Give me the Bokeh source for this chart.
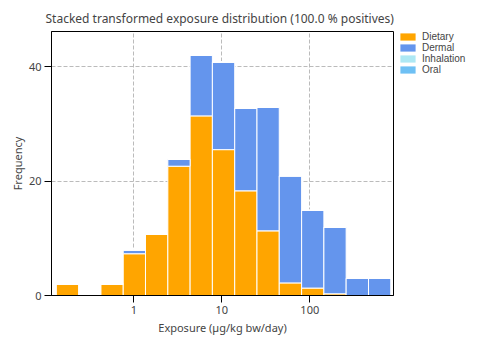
import numpy as np
from bokeh.plotting import figure
from bokeh.layouts import row
from bokeh.models import ColumnDataSource, Range1d, Legend, FixedTicker, BasicTickFormatter
from bokeh.transform import stack
from bokeh.embed import file_html
from bokeh.resources import INLINE

# log10 bin edges of exposure (µg/kg bw/day)
log_edges = [-0.88, -0.627, -0.373, -0.12, 0.133, 0.387, 0.64, 0.893, 1.147,
             1.40, 1.653, 1.907, 2.16, 2.413, 2.667, 2.92]
dietary = [2, 0, 2, 7.3, 10.7, 22.6, 31.4, 25.5, 18.3, 11.3, 2.2, 1.3, 0.3, 0, 0]
dermal = [0, 0, 0, 0.65, 0, 1.2, 10.6, 15.3, 14.4, 21.6, 18.7, 13.6, 11.6, 3.0, 3.0]
inhalation = [0] * 15
oral = [0] * 15
routes = ["Dietary", "Dermal", "Inhalation", "Oral"]
colors = ["#FFA500", "#6495ED", "#ADE8F4", "#6EC0F4"]
x_ticks = [1, 10, 100]
y_ticks = [0, 20, 40]

FONT = "Noto Sans"
LEG_FONT = "Liberation Sans"

edges = np.power(10.0, np.array(log_edges))
src = ColumnDataSource(dict(left=edges[:-1], right=edges[1:],
                            Dietary=dietary, Dermal=dermal,
                            Inhalation=inhalation, Oral=oral))

p = figure(width=394, height=350, x_axis_type="log",
           x_range=Range1d(10 ** -0.935, 10 ** 2.951), y_range=Range1d(0, 46.15),
           output_backend="svg", toolbar_location=None,
           min_border_left=51, min_border_right=1, min_border_top=31, min_border_bottom=55)

p.title.text = "Stacked transformed exposure distribution  (100.0 % positives)"
p.title.text_font = FONT
p.title.text_font_size = "12px"
p.title.text_font_style = "normal"
p.title.offset = -6

for i, r in enumerate(routes):
    p.quad(left="left", right="right",
           bottom=stack(*routes[:i]), top=stack(*routes[:i + 1]),
           source=src, fill_color=colors[i], line_color="white", line_width=1)

p.xaxis.ticker = FixedTicker(ticks=x_ticks)
p.xaxis.formatter = BasicTickFormatter()
p.yaxis.ticker = FixedTicker(ticks=y_ticks)
p.xaxis.axis_label = "Exposure (µg/kg bw/day)"
p.yaxis.axis_label = "Frequency"
for ax in (p.xaxis, p.yaxis):
    ax.axis_label_text_font = FONT
    ax.axis_label_text_font_size = "11px"
    ax.axis_label_text_font_style = "normal"
    ax.major_label_text_font = FONT
    ax.major_label_text_font_size = "11px"
    ax.axis_line_color = "black"
    ax.major_tick_line_color = "black"
    ax.major_tick_out = 7
    ax.major_tick_in = 0
    ax.minor_tick_line_color = None
p.xaxis.major_label_standoff = 3
p.xaxis.axis_label_standoff = 3
p.yaxis.major_label_standoff = 3
p.yaxis.axis_label_standoff = 1

p.grid.grid_line_color = "#bbbbbb"
p.grid.grid_line_dash = "4 2"
p.outline_line_color = "black"
p.outline_line_alpha = 1

# legend panel (separate small figure to the right of the plot box)
pl = figure(width=106, height=350, x_range=Range1d(-100, -99), y_range=Range1d(0, 1),
            output_backend="svg", toolbar_location=None,
            x_axis_location=None, y_axis_location=None,
            min_border_left=4, min_border_right=0, min_border_top=31, min_border_bottom=0)
pl.grid.visible = False
pl.outline_line_color = None
items = []
for i, r in enumerate(routes):
    rr = pl.quad(left="left", right="right",
                 bottom=stack(*routes[:i]), top=stack(*routes[:i + 1]),
                 source=src, fill_color=colors[i], line_color=None)
    items.append((r, [rr]))

legend = Legend(items=items, location="top_left")
legend.margin = 0
legend.padding = 0
legend.spacing = 0
legend.glyph_width = 19
legend.glyph_height = 9
legend.label_height = 10
legend.label_standoff = 5
legend.label_text_font = LEG_FONT
legend.label_text_font_size = "10px"
legend.label_text_line_height = 0.9
legend.border_line_color = None
legend.background_fill_alpha = 0
pl.add_layout(legend)

open("out.html", "w").write(file_html(row(p, pl), INLINE))
